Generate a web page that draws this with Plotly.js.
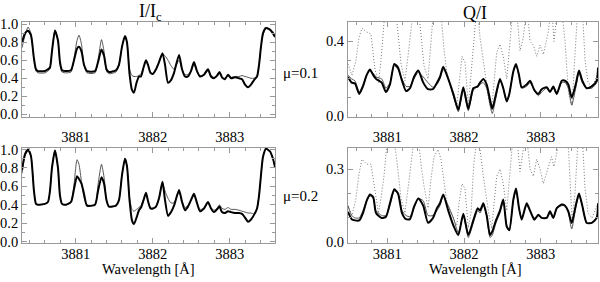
<!DOCTYPE html>
<html>
<head>
<meta charset="utf-8">
<script src="https://cdn.plot.ly/plotly-3.0.1.min.js"></script>
<style>
  body { margin: 0; background: #fff; }
  #chart { width: 600px; height: 282px; }
</style>
</head>
<body>
<div id="chart"></div>
<script>
// Wavelength grid (Å) for the intensity panels
const waveI = [
  3880.303, 3880.342, 3880.381, 3880.419, 3880.458, 3880.484, 3880.510, 3880.601, 3880.640, 3880.666,
  3880.692, 3880.731, 3880.770, 3880.796, 3880.822, 3880.874, 3880.939, 3880.978, 3881.017, 3881.043,
  3881.075, 3881.108, 3881.147, 3881.251, 3881.290, 3881.335, 3881.368, 3881.400, 3881.432, 3881.523,
  3881.562, 3881.601, 3881.640, 3881.666, 3881.699, 3881.731, 3881.757, 3881.790, 3881.822, 3881.848,
  3881.881, 3881.913, 3881.939, 3881.971, 3882.004, 3882.043, 3882.082, 3882.127, 3882.160, 3882.199,
  3882.238, 3882.277, 3882.342, 3882.381, 3882.419, 3882.458, 3882.497, 3882.536, 3882.575, 3882.614,
  3882.666, 3882.718, 3882.757, 3882.796, 3882.835, 3882.868, 3882.900, 3882.939, 3882.978, 3883.017,
  3883.069, 3883.121, 3883.160, 3883.199, 3883.238, 3883.277, 3883.316, 3883.355, 3883.381, 3883.406,
  3883.432, 3883.471, 3883.523, 3883.562, 3883.588
];

// I/Ic, mu = 0.1 (thick = observed, thin = synthetic)
const iMu1Thick = [
  0.80, 0.90, 0.93, 0.88, 0.62, 0.50, 0.48, 0.48, 0.50, 0.52,
  0.70, 0.93, 0.82, 0.58, 0.49, 0.48, 0.49, 0.60, 0.73, 0.75,
  0.70, 0.55, 0.48, 0.48, 0.58, 0.72, 0.65, 0.50, 0.47, 0.49,
  0.55, 0.75, 0.87, 0.80, 0.45, 0.27, 0.24, 0.35, 0.42, 0.42,
  0.52, 0.60, 0.55, 0.46, 0.45, 0.50, 0.58, 0.68, 0.55, 0.35,
  0.38, 0.46, 0.66, 0.50, 0.42, 0.42, 0.48, 0.58, 0.48, 0.42,
  0.44, 0.50, 0.42, 0.40, 0.43, 0.47, 0.41, 0.39, 0.44, 0.40,
  0.41, 0.40, 0.39, 0.33, 0.30, 0.33, 0.38, 0.42, 0.55, 0.75,
  0.90, 0.96, 0.94, 0.90, 0.86
];
const iMu1Thin = [
  0.74, 0.88, 0.97, 0.90, 0.60, 0.48, 0.46, 0.46, 0.48, 0.51,
  0.70, 0.94, 0.82, 0.56, 0.47, 0.46, 0.47, 0.62, 0.82, 0.88,
  0.78, 0.55, 0.46, 0.46, 0.60, 0.83, 0.70, 0.48, 0.45, 0.47,
  0.55, 0.75, 0.87, 0.80, 0.50, 0.43, 0.42, 0.42, 0.43, 0.45,
  0.52, 0.59, 0.55, 0.47, 0.45, 0.50, 0.58, 0.67, 0.65, 0.60,
  0.54, 0.50, 0.60, 0.50, 0.44, 0.44, 0.48, 0.55, 0.48, 0.43,
  0.44, 0.48, 0.43, 0.41, 0.42, 0.45, 0.41, 0.40, 0.43, 0.41,
  0.42, 0.42, 0.43, 0.42, 0.41, 0.40, 0.40, 0.42, 0.55, 0.75,
  0.88, 0.96, 0.95, 0.92, 0.88
];

// I/Ic, mu = 0.2
const iMu2Thick = [
  0.78, 0.95, 1.00, 0.93, 0.55, 0.41, 0.40, 0.41, 0.43, 0.55,
  0.80, 0.99, 0.80, 0.50, 0.41, 0.40, 0.43, 0.57, 0.71, 0.68,
  0.63, 0.52, 0.39, 0.40, 0.55, 0.70, 0.63, 0.45, 0.38, 0.39,
  0.45, 0.72, 0.90, 0.82, 0.45, 0.23, 0.19, 0.26, 0.34, 0.37,
  0.45, 0.53, 0.44, 0.36, 0.36, 0.38, 0.47, 0.65, 0.45, 0.28,
  0.32, 0.39, 0.56, 0.43, 0.34, 0.38, 0.45, 0.52, 0.42, 0.33,
  0.36, 0.43, 0.36, 0.32, 0.35, 0.38, 0.32, 0.31, 0.33, 0.32,
  0.31, 0.31, 0.30, 0.26, 0.215, 0.24, 0.29, 0.36, 0.50, 0.72,
  0.92, 1.01, 0.98, 0.90, 0.81
];
const iMu2Thin = [
  0.74, 0.93, 0.99, 0.93, 0.55, 0.41, 0.40, 0.41, 0.43, 0.55,
  0.80, 0.99, 0.80, 0.50, 0.41, 0.40, 0.43, 0.62, 0.89, 0.84,
  0.65, 0.48, 0.40, 0.40, 0.62, 0.84, 0.70, 0.45, 0.38, 0.39,
  0.45, 0.72, 0.90, 0.82, 0.48, 0.35, 0.33, 0.35, 0.37, 0.39,
  0.46, 0.52, 0.44, 0.37, 0.36, 0.38, 0.47, 0.64, 0.55, 0.47,
  0.42, 0.42, 0.53, 0.44, 0.37, 0.39, 0.45, 0.50, 0.42, 0.35,
  0.36, 0.42, 0.37, 0.34, 0.36, 0.40, 0.36, 0.35, 0.37, 0.35,
  0.35, 0.34, 0.33, 0.32, 0.31, 0.31, 0.30, 0.36, 0.50, 0.72,
  0.92, 1.01, 0.98, 0.90, 0.81
];

// Wavelength grid (Å) for the Q/I panels
const waveQ = [
  3880.488, 3880.536, 3880.579, 3880.635, 3880.683, 3880.731, 3880.774, 3880.817, 3880.853, 3880.927,
  3880.983, 3881.035, 3881.091, 3881.140, 3881.192, 3881.244, 3881.296, 3881.348, 3881.404, 3881.469,
  3881.531, 3881.596, 3881.648, 3881.687, 3881.730, 3881.795, 3881.861, 3881.926, 3881.991, 3882.056,
  3882.121, 3882.179, 3882.209, 3882.252, 3882.296, 3882.339, 3882.369, 3882.417, 3882.469, 3882.512,
  3882.557, 3882.591, 3882.643, 3882.678, 3882.717, 3882.752, 3882.817, 3882.861, 3882.917, 3882.969,
  3883.013, 3883.078, 3883.121, 3883.164, 3883.209, 3883.274, 3883.317, 3883.360, 3883.404, 3883.456,
  3883.499, 3883.542, 3883.600, 3883.665, 3883.730, 3883.747
];

const qMu1Thick = [
  0.21, 0.18, 0.175, 0.12, 0.16, 0.22, 0.25, 0.22, 0.20, 0.18,
  0.13, 0.17, 0.28, 0.26, 0.19, 0.135, 0.15, 0.21, 0.245, 0.18,
  0.145, 0.145, 0.18, 0.21, 0.265, 0.20, 0.12, 0.035, 0.155, 0.04,
  0.15, 0.16, 0.18, 0.20, 0.17, 0.09, 0.04, 0.12, 0.20, 0.15,
  0.08, 0.12, 0.24, 0.28, 0.22, 0.155, 0.17, 0.19, 0.14, 0.12,
  0.145, 0.155, 0.13, 0.16, 0.12, 0.19, 0.19, 0.17, 0.10, 0.17,
  0.245, 0.19, 0.15, 0.16, 0.19, 0.26
];
const qMu1Thin = [
  0.22, 0.20, 0.19, 0.13, 0.17, 0.22, 0.24, 0.23, 0.21, 0.20,
  0.15, 0.18, 0.27, 0.25, 0.20, 0.16, 0.16, 0.20, 0.235, 0.21,
  0.18, 0.155, 0.17, 0.20, 0.25, 0.20, 0.11, 0.025, 0.14, 0.03,
  0.14, 0.16, 0.17, 0.18, 0.15, 0.06, 0.015, 0.10, 0.19, 0.15,
  0.08, 0.12, 0.24, 0.27, 0.22, 0.15, 0.16, 0.18, 0.14, 0.11,
  0.13, 0.15, 0.13, 0.15, 0.12, 0.18, 0.18, 0.15, 0.06, 0.15,
  0.23, 0.18, 0.15, 0.15, 0.18, 0.24
];
const qMu2Thick = [
  0.125, 0.095, 0.09, 0.09, 0.12, 0.17, 0.196, 0.185, 0.12, 0.10,
  0.105, 0.16, 0.217, 0.20, 0.12, 0.095, 0.095, 0.145, 0.18, 0.15,
  0.08, 0.10, 0.14, 0.16, 0.196, 0.13, 0.07, 0.03, 0.117, 0.03,
  0.09, 0.14, 0.13, 0.16, 0.11, 0.03, 0.045, 0.09, 0.13, 0.175,
  0.064, 0.05, 0.175, 0.22, 0.14, 0.093, 0.16, 0.13, 0.093, 0.113,
  0.10, 0.10, 0.127, 0.10, 0.14, 0.155, 0.15, 0.127, 0.079, 0.15,
  0.20, 0.15, 0.079, 0.08, 0.10, 0.16
];
const qMu2Thin = [
  0.15, 0.11, 0.10, 0.10, 0.13, 0.17, 0.19, 0.18, 0.13, 0.11,
  0.11, 0.15, 0.21, 0.20, 0.13, 0.11, 0.105, 0.14, 0.18, 0.17,
  0.11, 0.11, 0.13, 0.15, 0.19, 0.15, 0.10, 0.04, 0.11, 0.02,
  0.08, 0.13, 0.12, 0.15, 0.11, 0.02, 0.03, 0.08, 0.12, 0.165,
  0.07, 0.05, 0.17, 0.21, 0.14, 0.10, 0.15, 0.13, 0.10, 0.11,
  0.10, 0.10, 0.12, 0.10, 0.14, 0.15, 0.15, 0.12, 0.055, 0.14,
  0.19, 0.15, 0.08, 0.08, 0.10, 0.15
];

// Dotted Q/I profiles run off the top of the frame
const waveDot = [
  3880.488, 3880.540, 3880.592, 3880.631, 3880.670, 3880.731, 3880.787, 3880.840, 3880.885, 3880.918,
  3880.957, 3881.009, 3881.074, 3881.126, 3881.179, 3881.231, 3881.270, 3881.309, 3881.348, 3881.400,
  3881.439, 3881.479, 3881.531, 3881.570, 3881.609, 3881.661, 3881.700, 3881.739, 3881.778, 3881.831,
  3881.905, 3881.935, 3881.974, 3882.013, 3882.056, 3882.091, 3882.130, 3882.170, 3882.209, 3882.252,
  3882.317, 3882.361, 3882.426, 3882.469, 3882.512, 3882.557, 3882.600, 3882.643, 3882.691, 3882.730,
  3882.773, 3882.821, 3882.861, 3882.904, 3882.948, 3882.991, 3883.034, 3883.099, 3883.141, 3883.173,
  3883.213, 3883.265, 3883.317, 3883.363, 3883.408, 3883.447, 3883.486, 3883.539, 3883.578, 3883.617,
  3883.669, 3883.721, 3883.747
];
const qMu1Dot = [
  0.28, 0.22, 0.30, 0.42, 0.47, 0.45, 0.44, 0.25, 0.18, 0.30,
  0.50, 0.60, 0.60, 0.50, 0.28, 0.19, 0.32, 0.50, 0.60, 0.60,
  0.42, 0.27, 0.20, 0.42, 0.60, 0.60, 0.55, 0.36, 0.23, 0.15,
  0.05, 0.17, 0.32, 0.29, 0.06, 0.22, 0.42, 0.60, 0.42, 0.29,
  0.11, 0.04, 0.34, 0.385, 0.32, 0.20, 0.42, 0.60, 0.55, 0.35,
  0.42, 0.60, 0.40, 0.38, 0.32, 0.38, 0.33, 0.45, 0.60, 0.40,
  0.55, 0.60, 0.40, 0.12, 0.06, 0.35, 0.60, 0.60, 0.30, 0.18,
  0.16, 0.20, 0.25
];
const qMu2Dot = [
  0.15, 0.11, 0.18, 0.28, 0.34, 0.32, 0.32, 0.22, 0.12, 0.18,
  0.27, 0.45, 0.45, 0.33, 0.18, 0.12, 0.22, 0.33, 0.42, 0.45,
  0.32, 0.23, 0.14, 0.26, 0.35, 0.38, 0.34, 0.25, 0.16, 0.12,
  0.07, 0.16, 0.24, 0.22, 0.06, 0.12, 0.33, 0.42, 0.38, 0.27,
  0.13, 0.057, 0.27, 0.30, 0.24, 0.13, 0.28, 0.45, 0.42, 0.29,
  0.38, 0.42, 0.30, 0.27, 0.34, 0.30, 0.24, 0.31, 0.35, 0.31,
  0.37, 0.45, 0.45, 0.38, 0.09, 0.20, 0.42, 0.45, 0.22, 0.12,
  0.10, 0.14, 0.16
];

const serif = '"Liberation Serif", "Times New Roman", serif';

function curve(x, y, xa, ya, kind) {
  const styles = {
    thick: { color: '#000', width: 2, dash: 'solid', shape: 'spline' },
    thin: { color: '#444', width: 0.9, dash: 'solid', shape: 'spline' },
    dot: { color: '#777', width: 1, dash: '1px,2px', shape: 'linear' }
  };
  const s = styles[kind];
  return {
    x: x, y: y, xaxis: xa, yaxis: ya, type: 'scatter', mode: 'lines',
    line: { color: s.color, width: s.width, dash: s.dash, shape: s.shape, smoothing: 0.6 },
    hoverinfo: 'skip', showlegend: false
  };
}

const traces = [
  curve(waveI, iMu1Thin, 'x', 'y', 'thin'),
  curve(waveI, iMu1Thick, 'x', 'y', 'thick'),
  curve(waveDot, qMu1Dot, 'x2', 'y2', 'dot'),
  curve(waveQ, qMu1Thin, 'x2', 'y2', 'thin'),
  curve(waveQ, qMu1Thick, 'x2', 'y2', 'thick'),
  curve(waveI, iMu2Thin, 'x3', 'y3', 'thin'),
  curve(waveI, iMu2Thick, 'x3', 'y3', 'thick'),
  curve(waveDot, qMu2Dot, 'x4', 'y4', 'dot'),
  curve(waveQ, qMu2Thin, 'x4', 'y4', 'thin'),
  curve(waveQ, qMu2Thick, 'x4', 'y4', 'thick')
];

const frame = {
  showline: true, mirror: 'ticks', linecolor: '#999', linewidth: 1,
  ticks: 'inside', ticklen: 5, tickcolor: '#999', showgrid: false, zeroline: false,
  tickfont: { family: serif, size: 14.5, color: '#000' }, fixedrange: true
};

function xAxis(domain, range, anchor, standoff) {
  return Object.assign({}, frame, {
    domain: domain, range: range, anchor: anchor, tick0: 3881, dtick: 1, tickformat: 'd',
    ticklabelstandoff: standoff,
    minor: { dtick: 0.2, ticks: 'inside', ticklen: 3, tickcolor: '#999' }
  });
}
function yAxis(domain, range, anchor, dtick, minorStep) {
  return Object.assign({}, frame, {
    domain: domain, range: range, anchor: anchor, tick0: 0, dtick: dtick, tickformat: '.1f',
    ticklabelstandoff: 0,
    minor: { dtick: minorStep, ticks: 'inside', ticklen: 3, tickcolor: '#999' }
  });
}

const leftX = [0.0367, 0.4583];
const rightX = [0.58, 0.9967];
const topY = [0.584, 0.923];
const botY = [0.137, 0.476];

const label = (text, x, y, size) => ({
  text: text, x: x, y: y, xref: 'paper', yref: 'paper', showarrow: false,
  xanchor: 'center', yanchor: 'middle', font: { family: serif, size: size, color: '#000' }
});

const layout = {
  width: 600, height: 282,
  margin: { l: 0, r: 0, t: 0, b: 0 },
  paper_bgcolor: '#fff', plot_bgcolor: '#fff',
  showlegend: false,
  xaxis: xAxis(leftX, [3880.303, 3883.588], 'y', 6),
  yaxis: yAxis(topY, [-0.035, 1.03], 'x', 0.2, 0.1),
  xaxis2: xAxis(rightX, [3880.488, 3883.747], 'y2', 6),
  yaxis2: yAxis(topY, [-0.005, 0.505], 'x2', 0.4, 0.1),
  xaxis3: xAxis(leftX, [3880.303, 3883.588], 'y3', -3),
  yaxis3: yAxis(botY, [-0.02, 1.02], 'x3', 0.2, 0.1),
  xaxis4: xAxis(rightX, [3880.488, 3883.747], 'y4', -3),
  yaxis4: yAxis(botY, [-0.004, 0.387], 'x4', 0.3, 0.1),
  annotations: [
    label('I/I<sub>c</sub>', 0.25, 0.957, 18),
    label('Q/I', 0.7917, 0.954, 18),
    label('\u03bc=0.1', 0.5, 0.741, 15),
    label('\u03bc=0.2', 0.5, 0.305, 15),
    label('Wavelength [\u00c5]', 0.2467, 0.046, 14.5),
    label('Wavelength [\u00c5]', 0.7917, 0.046, 14.5)
  ]
};

Plotly.newPlot('chart', traces, layout, { staticPlot: true, displayModeBar: false });
</script>
</body>
</html>
